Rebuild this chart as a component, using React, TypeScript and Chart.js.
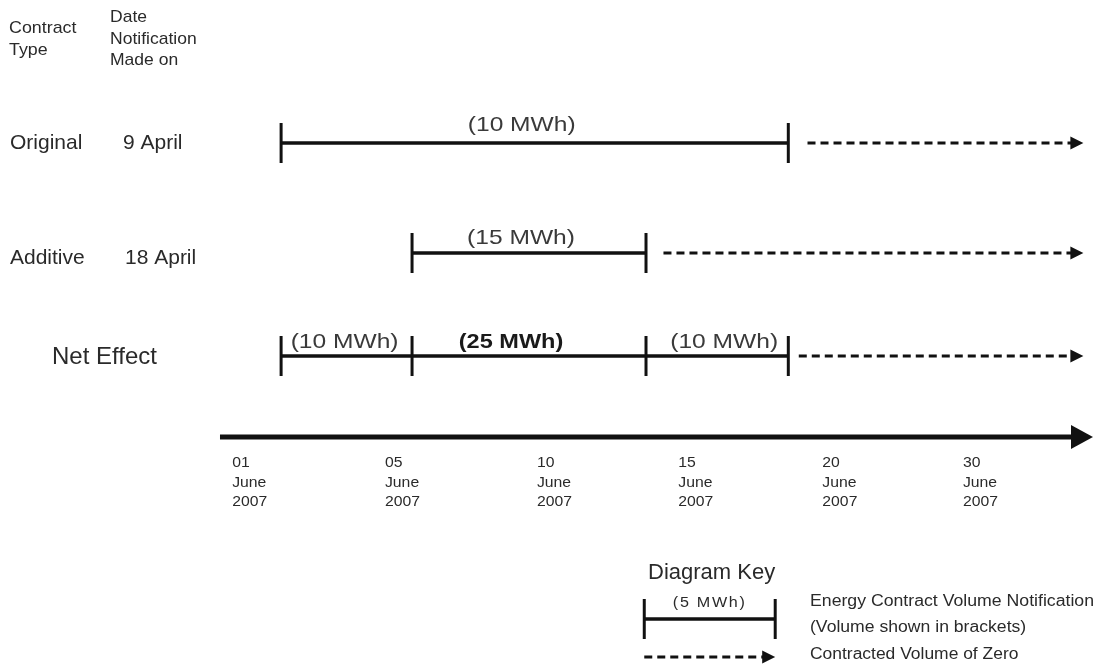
import React, { useEffect, useRef } from 'react';
import { Chart, registerables } from 'chart.js';

Chart.register(...registerables);

// ---- data (timeline position: 0 = start of the date axis, 100 = its arrow tip) ----
const tickDays = ['01', '05', '10', '15', '20', '30'];
const tickMonth = 'June';
const tickYear = '2007';
const tickPositions = [1.4, 18.9, 36.3, 52.5, 69.0, 85.1];

const contractTypes = ['Original', 'Additive', 'Net Effect'];
const notificationDates = ['9 April', '18 April', ''];

const originalBounds = [7.0, 65.1];
const additiveBounds = [22.0, 48.8];
const netBounds = [7.0, 22.0, 48.8, 65.1];
const originalVolumes = ['(10 MWh)'];
const additiveVolumes = ['(15 MWh)'];
const netVolumes = ['(10 MWh)', '(25 MWh)', '(10 MWh)'];
const zeroStarts = [67.3, 50.8, 66.3];
const zeroEnd = 98.9;
const axisEnd = 100;

const keyBounds = [48.6, 63.6];
const keyVolume = '(5 MWh)';
const keyLines = [
  'Energy Contract Volume Notification',
  '(Volume shown in brackets)',
  'Contracted Volume of Zero',
];

// ---- layout ----
const W = 1099;
const H = 665;
const X_MIN = -25.2;
const X_MAX = 100.69;
const PX_PER_UNIT = W / (X_MAX - X_MIN);
const ROW_Y = [143, 253, 356];
const LABEL_LIFT = [18, 15, 14];
const AXIS_Y = 437;
const KEY_Y = 619;
const KEY_ZERO_Y = 657;
const INK = '#111111';
const TEXT = '#2a2a2a';
const FONT = '"Liberation Sans", Arial, Helvetica, sans-serif';

const solidLine = (xs: number[], y: number, width: number) => ({
  data: xs.map((x) => ({ x, y })),
  showLine: true,
  borderColor: INK,
  backgroundColor: INK,
  borderWidth: width,
  pointRadius: 0,
});

const endTicks = (xs: number[], y: number) => ({
  data: xs.map((x) => ({ x, y })),
  showLine: false,
  pointStyle: 'line',
  rotation: 90,
  pointRadius: 20,
  borderColor: INK,
  backgroundColor: INK,
  pointBorderColor: INK,
  pointBorderWidth: 3,
});

const dashedLine = (from: number, to: number, y: number) => ({
  data: [{ x: from, y }, { x: to, y }],
  showLine: true,
  borderColor: INK,
  backgroundColor: INK,
  borderWidth: 3,
  borderDash: [8, 5],
  pointRadius: 0,
});

export default function App() {
  const canvasRef = useRef<HTMLCanvasElement>(null);
  const chartRef = useRef<Chart | null>(null);

  useEffect(() => {
    document.body.style.margin = '0';
    const canvas = canvasRef.current;
    if (!canvas) return;

    const rows = [originalBounds, additiveBounds, netBounds];
    const rowVolumes = [originalVolumes, additiveVolumes, netVolumes];
    const datasets: any[] = [];

    rows.forEach((b, i) => {
      datasets.push(solidLine([b[0], b[b.length - 1]], ROW_Y[i], 3.5));
      datasets.push(endTicks(b, ROW_Y[i]));
      datasets.push(dashedLine(zeroStarts[i], zeroEnd - 6 / PX_PER_UNIT, ROW_Y[i]));
    });
    // date axis
    datasets.push(solidLine([0, axisEnd - 12 / PX_PER_UNIT], AXIS_Y, 5));
    // key
    datasets.push(solidLine(keyBounds, KEY_Y, 3.5));
    datasets.push(endTicks(keyBounds, KEY_Y));
    datasets.push(dashedLine(keyBounds[0], keyBounds[1] - 6 / PX_PER_UNIT, KEY_ZERO_Y));

    const arrowHead = (ctx: CanvasRenderingContext2D, tipX: number, y: number, len: number, half: number) => {
      ctx.beginPath();
      ctx.moveTo(tipX, y);
      ctx.lineTo(tipX - len, y - half);
      ctx.lineTo(tipX - len, y + half);
      ctx.closePath();
      ctx.fillStyle = INK;
      ctx.fill();
    };

    // text helper; stretch widens the glyphs like the scanned original
    const text = (
      ctx: CanvasRenderingContext2D,
      s: string,
      x: number,
      y: number,
      size: number,
      opts: { align?: CanvasTextAlign; spacing?: number; bold?: boolean; color?: string; stretch?: number } = {}
    ) => {
      ctx.save();
      ctx.font = `${opts.bold ? 'bold ' : ''}${size}px ${FONT}`;
      ctx.fillStyle = opts.color || TEXT;
      ctx.textAlign = opts.align || 'left';
      ctx.textBaseline = 'middle';
      (ctx as any).letterSpacing = `${opts.spacing || 0}px`;
      ctx.translate(x, y);
      ctx.scale(opts.stretch || 1, 1);
      ctx.fillText(s, 0, 0);
      ctx.restore();
    };

    const labelsPlugin = {
      id: 'timelineLabels',
      afterDatasetsDraw(chart: any) {
        const { ctx } = chart;
        const px = (v: number) => chart.scales.x.getPixelForValue(v);
        const py = (v: number) => chart.scales.y.getPixelForValue(v);
        ctx.save();

        // arrow heads
        ROW_Y.forEach((y) => arrowHead(ctx, px(zeroEnd), py(y), 13, 6.5));
        arrowHead(ctx, px(axisEnd), py(AXIS_Y), 22, 12);
        arrowHead(ctx, px(keyBounds[1]), py(KEY_ZERO_Y), 13, 6.5);

        // column headers
        text(ctx, 'Contract', 9, 28, 17, { stretch: 1.05 });
        text(ctx, 'Type', 9, 50, 17, { stretch: 1.05 });
        text(ctx, 'Date', 110, 17, 17, { stretch: 1.03 });
        text(ctx, 'Notification', 110, 39, 17, { stretch: 1.03 });
        text(ctx, 'Made on', 110, 60, 17, { stretch: 1.03 });

        // row labels
        text(ctx, contractTypes[0], 10, py(ROW_Y[0]), 21);
        text(ctx, notificationDates[0], 123, py(ROW_Y[0]), 21);
        text(ctx, contractTypes[1], 10, py(ROW_Y[1]) + 5, 21);
        text(ctx, notificationDates[1], 125, py(ROW_Y[1]) + 5, 21);
        text(ctx, contractTypes[2], 52, py(ROW_Y[2]) + 1, 24);

        // volume labels centred over each segment
        const nudge = [[-13], [-8], [-2, -18, 7]];
        rows.forEach((b, i) => {
          rowVolumes[i].forEach((v, j) => {
            const mid = (px(b[j]) + px(b[j + 1])) / 2 + nudge[i][j];
            const bold = i === 2 && j === 1;
            text(ctx, v, mid, py(ROW_Y[i]) - LABEL_LIFT[i], 21, {
              align: 'center',
              stretch: bold ? 1.12 : 1.17,
              bold,
              color: bold ? '#1a1a1a' : '#3a3a3a',
            });
          });
        });

        // date axis tick labels
        tickDays.forEach((d, i) => {
          const x = px(tickPositions[i]);
          text(ctx, d, x, 463, 15, { stretch: 1.05 });
          text(ctx, tickMonth, x, 483, 15, { stretch: 1.05 });
          text(ctx, tickYear, x, 502, 15, { stretch: 1.05 });
        });

        // key
        text(ctx, 'Diagram Key', 648, 573, 22);
        text(ctx, keyVolume, (px(keyBounds[0]) + px(keyBounds[1])) / 2, 603, 14, {
          align: 'center',
          spacing: 1.5,
          stretch: 1.15,
        });
        text(ctx, keyLines[0], 810, 602, 16, { stretch: 1.105 });
        text(ctx, keyLines[1], 810, 628, 16, { stretch: 1.1 });
        text(ctx, keyLines[2], 810, 655, 16, { stretch: 1.09 });

        ctx.restore();
      },
    };

    chartRef.current = new Chart(canvas, {
      type: 'scatter',
      data: { datasets },
      plugins: [labelsPlugin],
      options: {
        responsive: false,
        animation: false,
        events: [],
        layout: { padding: 0, autoPadding: false },
        plugins: {
          legend: { display: false },
          tooltip: { enabled: false },
          colors: { enabled: false },
        } as any,
        scales: {
          x: { type: 'linear', min: X_MIN, max: X_MAX, display: false },
          y: { type: 'linear', min: 0, max: H, reverse: true, display: false },
        },
      },
    });

    return () => {
      if (chartRef.current) {
        chartRef.current.destroy();
        chartRef.current = null;
      }
    };
  }, []);

  return (
    <div style={{ width: W, height: H, background: '#ffffff' }}>
      <canvas ref={canvasRef} width={W} height={H} />
    </div>
  );
}
